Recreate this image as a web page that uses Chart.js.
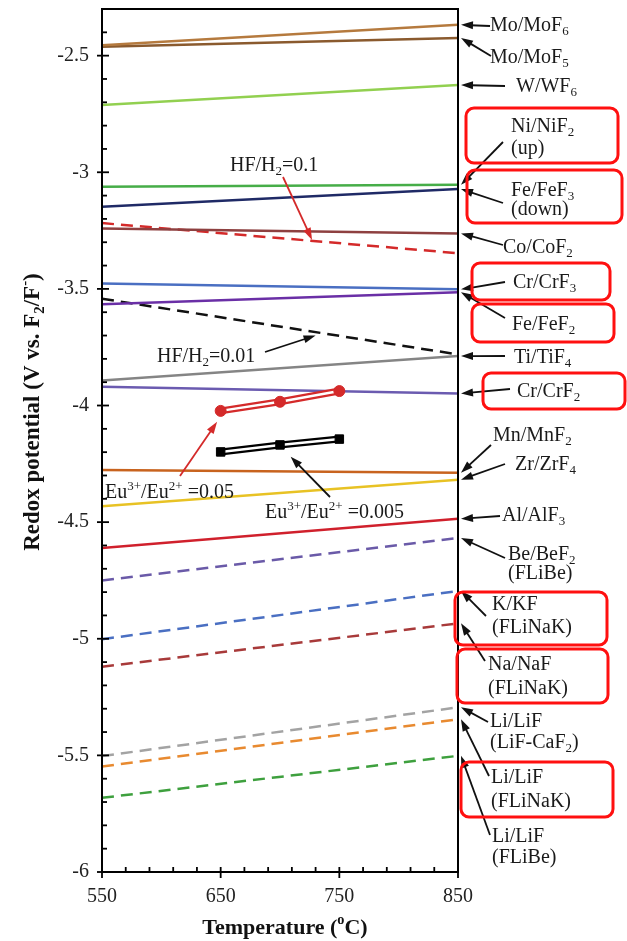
<!DOCTYPE html>
<html>
<head>
<meta charset="utf-8">
<script src="https://cdn.jsdelivr.net/npm/chart.js@4/dist/chart.umd.min.js"></script>
<style>
  html, body { margin: 0; padding: 0; background: #fff; }
</style>
</head>
<body>
<canvas id="redoxChart" width="627" height="941"></canvas>
<script>
// temperatures (°C)
const temps = [550, 850];
const euTemps = [650, 700, 750];

// redox potentials (V vs F2/F-) at 550 and 850 °C
const moMoF6 = [-2.455, -2.368];
const moMoF5 = [-2.462, -2.424];
const wWF6 = [-2.712, -2.626];
const niNiF2 = [-3.062, -3.054];
const feFeF3 = [-3.148, -3.072];
const coCoF2 = [-3.241, -3.262];
const hfH2_01 = [-3.218, -3.347];
const crCrF3 = [-3.477, -3.502];
const feFeF2 = [-3.566, -3.514];
const hfH2_001 = [-3.542, -3.781];
const tiTiF4 = [-3.893, -3.788];
const crCrF2 = [-3.920, -3.949];
const mnMnF2 = [-4.276, -4.288];
const zrZrF4 = [-4.432, -4.318];
const alAlF3 = [-4.611, -4.486];
const beBeF2 = [-4.750, -4.568];
const kKF = [-5.002, -4.795];
const naNaF = [-5.120, -4.934];
const liCaF2 = [-5.503, -5.294];
const liFLiNaK = [-5.548, -5.345];
const liFLiBe = [-5.682, -5.502];

// Eu3+/Eu2+ measured points at 650, 700, 750 °C
const eu005 = [-4.023, -3.984, -3.938];
const eu0005 = [-4.199, -4.169, -4.144];

const yTicksMajor = 0.5;

const lines = [
    { d: moMoF6, c: '#b57a3e' },
    { d: moMoF5, c: '#8a5a2e' },
    { d: wWF6, c: '#92d050' },
    { d: niNiF2, c: '#46ad48' },
    { d: feFeF3, c: '#1f2a66' },
    { d: coCoF2, c: '#8e4040' },
    { d: hfH2_01, c: '#d42a2a', dash: [12, 7] },
    { d: crCrF3, c: '#4a6fc2' },
    { d: feFeF2, c: '#6a2fa6' },
    { d: hfH2_001, c: '#111111', dash: [12, 7] },
    { d: tiTiF4, c: '#858585' },
    { d: crCrF2, c: '#6b5bb0' },
    { d: mnMnF2, c: '#c8631e' },
    { d: zrZrF4, c: '#e8c224' },
    { d: alAlF3, c: '#d0202c' },
    { d: beBeF2, c: '#6a5aa8', dash: [12, 7] },
    { d: kKF, c: '#4a6fc2', dash: [12, 7] },
    { d: naNaF, c: '#a83a3a', dash: [12, 7] },
    { d: liCaF2, c: '#a3a3a3', dash: [12, 7] },
    { d: liFLiNaK, c: '#e88a30', dash: [12, 7] },
    { d: liFLiBe, c: '#3ea03e', dash: [12, 7] }
];

const datasets = lines.map(l => ({
    data: temps.map((t, i) => ({ x: t, y: l.d[i] })),
    borderColor: l.c,
    borderWidth: 2.5,
    borderDash: l.dash || [],
    pointRadius: 0,
    order: 2
}));

function euSets(vals, color, style) {
    const pts = euTemps.map((t, i) => ({ x: t, y: vals[i] }));
    return [
        { data: pts, borderColor: color, borderWidth: 7, pointRadius: 0, order: 1 },
        { data: pts, borderColor: '#ffffff', borderWidth: 2.5, pointStyle: style,
          pointRadius: style === 'rect' ? 6 : 5.5, pointBackgroundColor: color,
          pointBorderColor: color, pointBorderWidth: 1, order: 0 }
    ];
}
datasets.push(...euSets(eu005, '#d42a2a', 'circle'));
datasets.push(...euSets(eu0005, '#000000', 'rect'));

// annotation layout (canvas pixels); arrow heads are taken from the data
const rightLabels = [
    { s: ['Mo/MoF_{6}'], x: 490, y: [26], tail: [490, 26], to: moMoF6 },
    { s: ['Mo/MoF_{5}'], x: 490, y: [58], tail: [491, 56], to: moMoF5 },
    { s: ['W/WF_{6}'], x: 516, y: [87], tail: [505, 86], to: wWF6 },
    { s: ['Ni/NiF_{2}', '(up)'], x: 511, y: [127, 149], tail: [503, 142], to: niNiF2 },
    { s: ['Fe/FeF_{3}', '(down)'], x: 511, y: [191, 210], tail: [503, 203], to: feFeF3 },
    { s: ['Co/CoF_{2}'], x: 503, y: [248], tail: [503, 245], to: coCoF2 },
    { s: ['Cr/CrF_{3}'], x: 513, y: [283], tail: [505, 282], to: crCrF3 },
    { s: ['Fe/FeF_{2}'], x: 512, y: [325], tail: [505, 318], to: feFeF2 },
    { s: ['Ti/TiF_{4}'], x: 514, y: [358], tail: [505, 356], to: tiTiF4 },
    { s: ['Cr/CrF_{2}'], x: 517, y: [392], tail: [510, 389], to: crCrF2 },
    { s: ['Mn/MnF_{2}'], x: 493, y: [436], tail: [491, 445], to: mnMnF2 },
    { s: ['Zr/ZrF_{4}'], x: 515, y: [465], tail: [505, 464], to: zrZrF4 },
    { s: ['Al/AlF_{3}'], x: 502, y: [516], tail: [500, 516], to: alAlF3 },
    { s: ['Be/BeF_{2}', '(FLiBe)'], x: 508, y: [555, 574], tail: [505, 558], to: beBeF2 },
    { s: ['K/KF', '(FLiNaK)'], x: 492, y: [605, 628], tail: [486, 616], to: kKF },
    { s: ['Na/NaF', '(FLiNaK)'], x: 488, y: [665, 689], tail: [485, 661], to: naNaF },
    { s: ['Li/LiF', '(LiF-CaF_{2})'], x: 490, y: [722, 743], tail: [488, 722], to: liCaF2 },
    { s: ['Li/LiF', '(FLiNaK)'], x: 491, y: [778, 802], tail: [489, 776], to: liFLiNaK },
    { s: ['Li/LiF', '(FLiBe)'], x: 492, y: [837, 858], tail: [490, 835], to: liFLiBe }
];

const boxes = [
    [466, 108, 152, 55], [467, 170, 155, 53], [472, 263, 138, 37], [472, 304, 142, 38],
    [483, 373, 142, 36], [455, 592, 152, 53], [457, 649, 151, 54], [461, 762, 152, 55]
];

const notes = [
    { s: 'HF/H_{2}=0.1', x: 230, y: 166, tail: [283, 177], head: [727, -3.29], c: '#d42a2a' },
    { s: 'HF/H_{2}=0.01', x: 157, y: 357, tail: [265, 352], head: [730, -3.70], c: '#111111' },
    { s: 'Eu^{3+}/Eu^{2+} =0.05', x: 105, y: 493, tail: [180, 476], head: [647, -4.07], c: '#d42a2a' },
    { s: 'Eu^{3+}/Eu^{2+} =0.005', x: 265, y: 513, tail: [330, 497], head: [709, -4.22], c: '#111111' }
];

const SERIF = '"Liberation Serif", "DejaVu Serif", serif';

function parseRich(str) {
    const parts = [];
    const re = /([_^])\{([^}]*)\}/g;
    let last = 0, m;
    while ((m = re.exec(str))) {
        if (m.index > last) parts.push({ t: str.slice(last, m.index), k: '' });
        parts.push({ t: m[2], k: m[1] });
        last = re.lastIndex;
    }
    if (last < str.length) parts.push({ t: str.slice(last), k: '' });
    return parts;
}

function drawRich(ctx, str, x, y, size, align, bold) {
    const parts = parseRich(str);
    const fontFor = p => (bold ? 'bold ' : '') + (p.k ? size * 0.65 : size) + 'px ' + SERIF;
    let w = 0;
    parts.forEach(p => { ctx.font = fontFor(p); p.w = ctx.measureText(p.t).width; w += p.w; });
    let cx = align === 'center' ? x - w / 2 : x;
    ctx.textBaseline = 'middle';
    ctx.textAlign = 'left';
    parts.forEach(p => {
        ctx.font = fontFor(p);
        const dy = p.k === '_' ? size * 0.3 : (p.k === '^' ? -size * 0.33 : 0);
        ctx.fillText(p.t, cx, y + dy);
        cx += p.w;
    });
}

function arrow(ctx, x1, y1, x2, y2, color) {
    const a = Math.atan2(y2 - y1, x2 - x1);
    const L = 12, W = 4;
    ctx.strokeStyle = color;
    ctx.fillStyle = color;
    ctx.lineWidth = 1.8;
    ctx.beginPath();
    ctx.moveTo(x1, y1);
    ctx.lineTo(x2 - L * 0.8 * Math.cos(a), y2 - L * 0.8 * Math.sin(a));
    ctx.stroke();
    ctx.beginPath();
    ctx.moveTo(x2, y2);
    ctx.lineTo(x2 - L * Math.cos(a) + W * Math.sin(a), y2 - L * Math.sin(a) - W * Math.cos(a));
    ctx.lineTo(x2 - L * Math.cos(a) - W * Math.sin(a), y2 - L * Math.sin(a) + W * Math.cos(a));
    ctx.closePath();
    ctx.fill();
}

function roundRect(ctx, x, y, w, h, r) {
    ctx.beginPath();
    ctx.moveTo(x + r, y);
    ctx.arcTo(x + w, y, x + w, y + h, r);
    ctx.arcTo(x + w, y + h, x, y + h, r);
    ctx.arcTo(x, y + h, x, y, r);
    ctx.arcTo(x, y, x + w, y, r);
    ctx.closePath();
    ctx.stroke();
}

const decorations = {
    id: 'decorations',
    afterDraw(chart) {
        const ctx = chart.ctx;
        const xs = chart.scales.x, ys = chart.scales.y;
        const { left, right, top, bottom } = chart.chartArea;
        ctx.save();

        // frame
        ctx.strokeStyle = '#000';
        ctx.lineWidth = 2;
        ctx.strokeRect(left, top, right - left, bottom - top);

        // ticks
        ctx.lineWidth = 1.8;
        ys.ticks.forEach(t => {
            const py = ys.getPixelForValue(t.value);
            const major = Math.abs(t.value / yTicksMajor - Math.round(t.value / yTicksMajor)) < 1e-6;
            ctx.beginPath();
            ctx.moveTo(left - (major ? 5 : 0), py);
            ctx.lineTo(left + (major ? 7 : 5), py);
            ctx.stroke();
        });
        xs.ticks.forEach(t => {
            const px = xs.getPixelForValue(t.value);
            const major = (t.value - 550) % 100 === 0;
            ctx.beginPath();
            ctx.moveTo(px, bottom + (major ? 6 : 0));
            ctx.lineTo(px, bottom - 5);
            ctx.stroke();
        });

        // axis titles
        ctx.fillStyle = '#111';
        drawRich(ctx, 'Temperature (^{o}C)', (left + right) / 2 + 5, 928, 22, 'center', true);
        ctx.save();
        ctx.translate(33, 412);
        ctx.rotate(-Math.PI / 2);
        drawRich(ctx, 'Redox potential (V vs. F_{2}/F^{-})', 0, 0, 23, 'center', true);
        ctx.restore();

        // right-hand labels with arrows to the line ends
        const hx = xs.getPixelForValue(temps[1]) + 3;
        rightLabels.forEach(l => {
            ctx.fillStyle = '#1a1a1a';
            l.s.forEach((s, i) => drawRich(ctx, s, l.x, l.y[i], 20, 'left', false));
            arrow(ctx, l.tail[0], l.tail[1], hx, ys.getPixelForValue(l.to[1]), '#111');
        });

        // inline notes
        notes.forEach(n => {
            ctx.fillStyle = '#1a1a1a';
            drawRich(ctx, n.s, n.x, n.y, 20, 'left', false);
            arrow(ctx, n.tail[0], n.tail[1], xs.getPixelForValue(n.head[0]), ys.getPixelForValue(n.head[1]), n.c);
        });

        // highlight boxes
        ctx.strokeStyle = '#ff1010';
        ctx.lineWidth = 3;
        boxes.forEach(b => roundRect(ctx, b[0], b[1], b[2], b[3], 8));

        ctx.restore();
    }
};

new Chart(document.getElementById('redoxChart'), {
    type: 'line',
    data: { datasets },
    options: {
        responsive: false,
        animation: false,
        layout: { padding: { top: 9, right: 169, left: 0, bottom: 0 } },
        plugins: {
            legend: { display: false },
            tooltip: { enabled: false }
        },
        scales: {
            x: {
                type: 'linear',
                min: 550,
                max: 850,
                grid: { display: false, drawTicks: false },
                border: { display: false },
                ticks: {
                    stepSize: 20,
                    autoSkip: false,
                    maxRotation: 0,
                    padding: 13,
                    color: '#222',
                    font: { family: SERIF, size: 20 },
                    callback: v => ((v - 550) % 100 === 0 ? String(v) : '')
                },
                afterFit: s => { s.height = 69; s.paddingLeft = 0; s.paddingRight = 0; }
            },
            y: {
                min: -6,
                max: -2.3,
                grid: { display: false, drawTicks: false },
                border: { display: false },
                ticks: {
                    stepSize: 0.1,
                    autoSkip: false,
                    padding: 13,
                    color: '#222',
                    font: { family: SERIF, size: 20 },
                    callback: v => {
                        const r = Math.round(v * 10);
                        return r % 5 === 0 ? String(r / 10) : '';
                    }
                },
                afterFit: s => { s.width = 102; s.paddingTop = 0; s.paddingBottom = 0; }
            }
        }
    },
    plugins: [decorations]
});
</script>
</body>
</html>
